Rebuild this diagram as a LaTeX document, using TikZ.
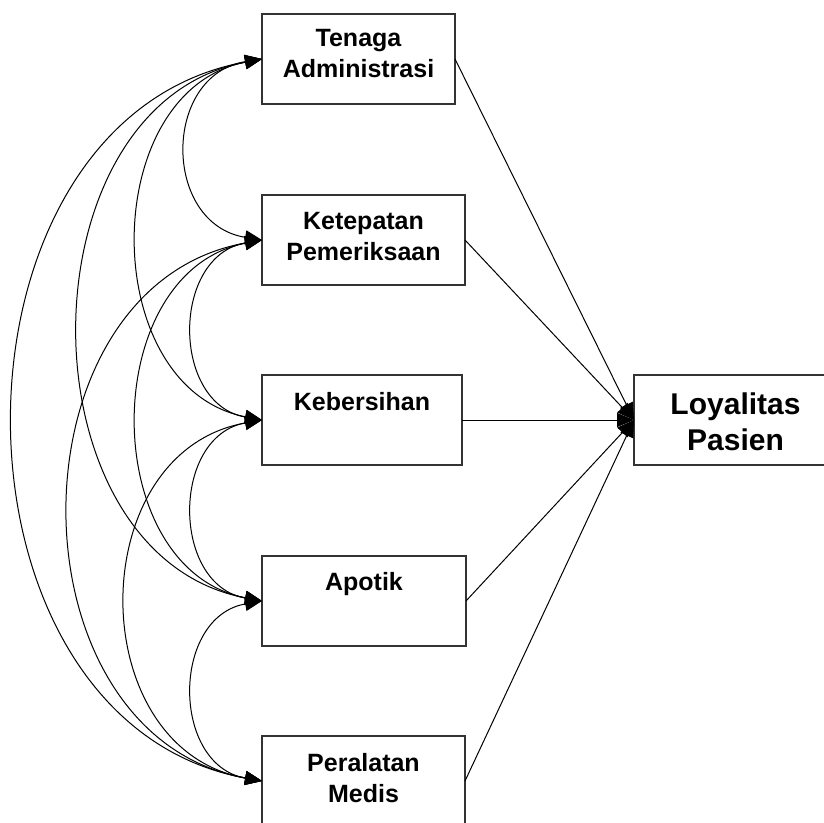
\documentclass[tikz,border=0pt]{standalone}
\usepackage{fontspec}
\setmainfont{Liberation Sans}
\usetikzlibrary{arrows.meta}
\begin{document}
\begin{tikzpicture}[x=0.5pt,y=-0.5pt,
  >={Triangle[length=8.5pt,width=7pt]},
  box/.style={draw=black!80, line width=0.7pt, inner sep=0pt, outer sep=0pt, minimum height=45pt},
  lbl/.style={anchor=north, inner sep=0pt, align=center, font=\fontsize{12.5}{15.5}\selectfont\bfseries},
  big/.style={anchor=north, inner sep=0pt, align=center, font=\fontsize{15}{18}\selectfont\bfseries},
  cov/.style={line width=0.5pt, <->},
  eff/.style={line width=0.5pt, ->}]
\useasboundingbox (0,0) rectangle (824,823);
% boxes
\node[box, minimum width=96.5pt] (b1) at (358.5,59) {};
\node[box, minimum width=101.5pt] (b2) at (363.5,240) {};
\node[box, minimum width=100pt] (b3) at (362,420) {};
\node[box, minimum width=102pt] (b4) at (364,601) {};
\node[box, minimum width=101.5pt] (b5) at (363.5,781) {};
\node[box, minimum width=102pt] (bl) at (736,420) {};
% labels
\node[lbl] (t1) at (358.5,29) {Tenaga\\Administrasi};
\node[lbl] (t2) at (363.5,212) {Ketepatan\\Pemeriksaan};
\node[lbl] (t3) at (362,392) {Kebersihan};
\node[lbl] (t4) at (364,572) {Apotik};
\node[lbl] (t5) at (363.5,753) {Peralatan\\Medis};
\node[big] (tl) at (735.5,392) {Loyalitas\\Pasien};
% effects
\draw[eff] (b1.east) -- (bl.west);
\draw[eff] (b2.east) -- (bl.west);
\draw[eff] (b3.east) -- (bl.west);
\draw[eff] (b4.east) -- (bl.west);
\draw[eff] (b5.east) -- (bl.west);
% covariances
\draw[cov] (b1.west) .. controls +(-100,16) and +(-100,-16) .. (b2.west);
\draw[cov] (b2.west) .. controls +(-91,16) and +(-91,-16) .. (b3.west);
\draw[cov] (b3.west) .. controls +(-91,16) and +(-91,-16) .. (b4.west);
\draw[cov] (b4.west) .. controls +(-91,16) and +(-91,-16) .. (b5.west);
\draw[cov] (b1.west) .. controls +(-165,32) and +(-165,-32) .. (b3.west);
\draw[cov] (b2.west) .. controls +(-165,32) and +(-165,-32) .. (b4.west);
\draw[cov] (b3.west) .. controls +(-180,32) and +(-180,-32) .. (b5.west);
\draw[cov] (b1.west) .. controls +(-243,46) and +(-243,-46) .. (b4.west);
\draw[cov] (b2.west) .. controls +(-256,46) and +(-256,-46) .. (b5.west);
\draw[cov] (b1.west) .. controls +(-330,60) and +(-330,-60) .. (b5.west);
\end{tikzpicture}
\end{document}
